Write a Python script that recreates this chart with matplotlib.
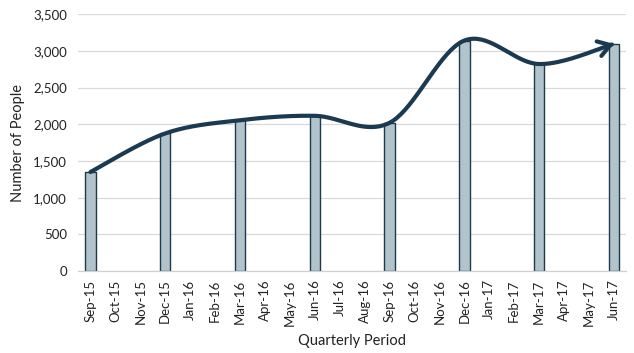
import matplotlib
matplotlib.use("Agg")
import matplotlib.pyplot as plt
import numpy as np

months = ["Sep-15", "Oct-15", "Nov-15", "Dec-15", "Jan-16", "Feb-16", "Mar-16", "Apr-16",
          "May-16", "Jun-16", "Jul-16", "Aug-16", "Sep-16", "Oct-16", "Nov-16", "Dec-16",
          "Jan-17", "Feb-17", "Mar-17", "Apr-17", "May-17", "Jun-17"]
quarters = ["Sep-15", "Dec-15", "Mar-16", "Jun-16", "Sep-16", "Dec-16", "Mar-17", "Jun-17"]
people = [1350, 1875, 2055, 2115, 2020, 3140, 2820, 3095]
yticks = [0, 500, 1000, 1500, 2000, 2500, 3000, 3500]

plt.rcParams['font.family'] = ['Lato', 'DejaVu Sans']

fig = plt.figure(figsize=(6.34, 3.53), dpi=100)
ax = fig.add_axes([0.123, 0.232, 0.865, 0.728])

xpos = np.array([months.index(q) for q in quarters], dtype=float)
yv = np.array(people, dtype=float)

ax.bar(xpos, yv, width=0.42, color="#b1c3cb", edgecolor="#1e3a4c", linewidth=1.0, zorder=2)

# Bezier smoothing (Excel-like) through bar tops
pts = np.column_stack([xpos, yv])
n = len(pts)
curve = []
for i in range(n - 1):
    p0 = pts[i - 1] if i > 0 else pts[i]
    p1 = pts[i]
    p2 = pts[i + 1]
    p3 = pts[i + 2] if i + 2 < n else pts[i + 1]
    c1 = p1 + (p2 - p0) / 6.0
    c2 = p2 - (p3 - p1) / 6.0
    t = np.linspace(0, 1, 40)[:, None]
    seg = (1 - t) ** 3 * p1 + 3 * (1 - t) ** 2 * t * c1 + 3 * (1 - t) * t ** 2 * c2 + t ** 3 * p2
    curve.append(seg if i == 0 else seg[1:])
curve = np.vstack(curve)

lc = "#1b3a52"
ax.plot(curve[:-2, 0], curve[:-2, 1], color=lc, linewidth=3.0, solid_capstyle="round", zorder=3)
ax.annotate("", xy=(curve[-1, 0], curve[-1, 1]), xytext=(curve[-6, 0], curve[-6, 1]),
            arrowprops=dict(arrowstyle="->,head_length=0.85,head_width=0.55", color=lc, lw=3.0,
                            shrinkA=0, shrinkB=0, capstyle="round", joinstyle="miter"),
            zorder=3)

ax.set_xlim(-0.5, len(months) - 0.5)
ax.set_ylim(0, 3500)
ax.set_yticks(yticks)
ax.set_yticklabels([f"{v:,}" for v in yticks])
ax.set_xticks(range(len(months)))
ax.set_xticklabels(months, rotation=90)
ax.tick_params(axis="both", length=0, labelsize=9.5, colors="#222222")
ax.tick_params(axis="x", pad=6)
ax.tick_params(axis="y", pad=8)
ax.grid(axis="y", color="#d9d9d9", linewidth=0.9, zorder=0)
ax.set_axisbelow(True)
for s in ["top", "right", "left"]:
    ax.spines[s].set_visible(False)
ax.spines["bottom"].set_color("#d0d0d0")
ax.spines["bottom"].set_linewidth(0.9)

ax.set_ylabel("Number of People", fontsize=10.5, color="#222222", labelpad=6)
ax.set_xlabel("Quarterly Period", fontsize=10.5, color="#222222", labelpad=6)

fig.savefig("out.png", dpi=100)
